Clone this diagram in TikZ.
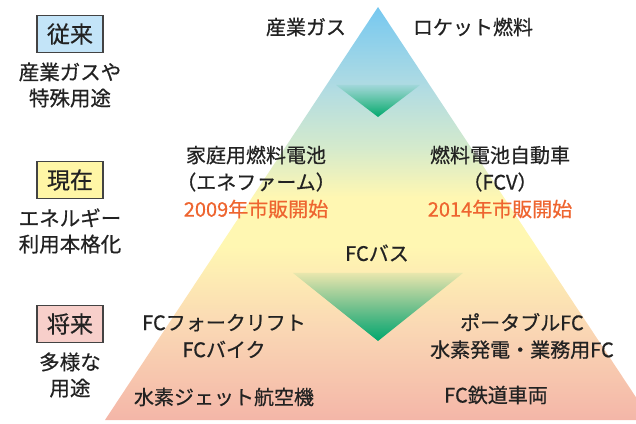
\documentclass[tikz,border=0pt]{standalone}
\usepackage{fontspec}
\setmainfont{Noto Sans CJK JP}[FakeBold=0.6]
\usetikzlibrary{fadings}

\definecolor{ink}{HTML}{222222}
\definecolor{sale}{HTML}{EE6530}
\definecolor{arrowgreen}{HTML}{00A86E}
\definecolor{pastfill}{HTML}{C3E4F8}
\definecolor{nowfill}{HTML}{FFF6A6}
\definecolor{futurefill}{HTML}{F7CFCA}
\definecolor{sky}{HTML}{76C8F0}
\definecolor{teal}{HTML}{B2DCE2}
\definecolor{pgreen}{HTML}{D4EACC}
\definecolor{ylw}{HTML}{FFF7B2}
\definecolor{peach}{HTML}{FAD7B4}
\definecolor{pkbot}{HTML}{F4B6A8}

\pgfdeclareverticalshading{pyramid}{100bp}{color(0bp)=(pkbot); color(25bp)=(pkbot);
  color(36bp)=(peach); color(46bp)=(ylw); color(52bp)=(ylw); color(58bp)=(pgreen);
  color(65bp)=(teal); color(75bp)=(sky); color(100bp)=(sky)}
\tikzfading[name=fadedown, top color=transparent!92, bottom color=transparent!0]

\tikzset{
  lbl/.style={font=\fontsize{20}{27}\selectfont, text=ink, inner sep=0pt, align=center},
  side/.style={font=\fontsize{20.5}{26}\selectfont, text=ink, inner sep=0pt, align=center},
  era/.style={draw=ink!85, line width=1.4pt, minimum width=66pt, minimum height=37pt,
    inner sep=0pt, font=\fontsize{23}{23}\selectfont, text=ink},
}

\begin{document}
\begin{tikzpicture}[x=1pt, y=-1pt]
    \useasboundingbox (0,0) rectangle (636,423);

    % Pyramid
    \coordinate (apex) at (378,7);
    \coordinate (baseL) at (105,420);
    \coordinate (baseR) at (651,420);
    \begin{scope}
      \clip (0,0) rectangle (636,423);
      \shade[shading=pyramid] (apex) -- (baseL) -- (baseR) -- cycle;
    \end{scope}

    % Arrows
    \coordinate (sa1) at (336,85);
    \coordinate (sa2) at (420,85);
    \coordinate (sa3) at (378,117);
    \fill[arrowgreen, path fading=fadedown] (sa1) -- (sa2) -- (sa3) -- cycle;
    \coordinate (ba1) at (293,273);
    \coordinate (ba2) at (463,273);
    \coordinate (ba3) at (378,341);
    \fill[arrowgreen, path fading=fadedown] (ba1) -- (ba2) -- (ba3) -- cycle;

    % Past
    \node[era, fill=pastfill] (past) at (70,34) {従来};
    \node[side] (pasttxt) at (70,85) {産業ガスや\\特殊用途};
    \node[lbl] (gas) at (306,27) {産業ガス};
    \node[lbl] (rocket) at (473,27) {ロケット燃料};

    % Present
    \node[era, fill=nowfill] (now) at (70,180) {現在};
    \node[side] (nowtxt) at (70,231) {エネルギー\\利用本格化};
    \node[lbl] (farm) at (256,182) {家庭用燃料電池\\（エネファーム）\\\textcolor{sale}{2009年市販開始}};
    \node[lbl] (fcv) at (500,182) {燃料電池自動車\\（FCV）\\\textcolor{sale}{2014年市販開始}};
    \node[lbl] (bus) at (377,253) {FCバス};

    % Future
    \node[era, fill=futurefill] (future) at (70,324) {将来};
    \node[side] (futuretxt) at (70,375) {多様な\\用途};
    \node[lbl] (fork) at (224,336) {FCフォークリフト\\FCバイク};
    \node[lbl] (jet) at (224,397) {水素ジェット航空機};
    \node[lbl] (portable) at (522,336) {ポータブルFC\\水素発電・業務用FC};
    \node[lbl] (rail) at (496,395) {FC鉄道車両};
\end{tikzpicture}
\end{document}
